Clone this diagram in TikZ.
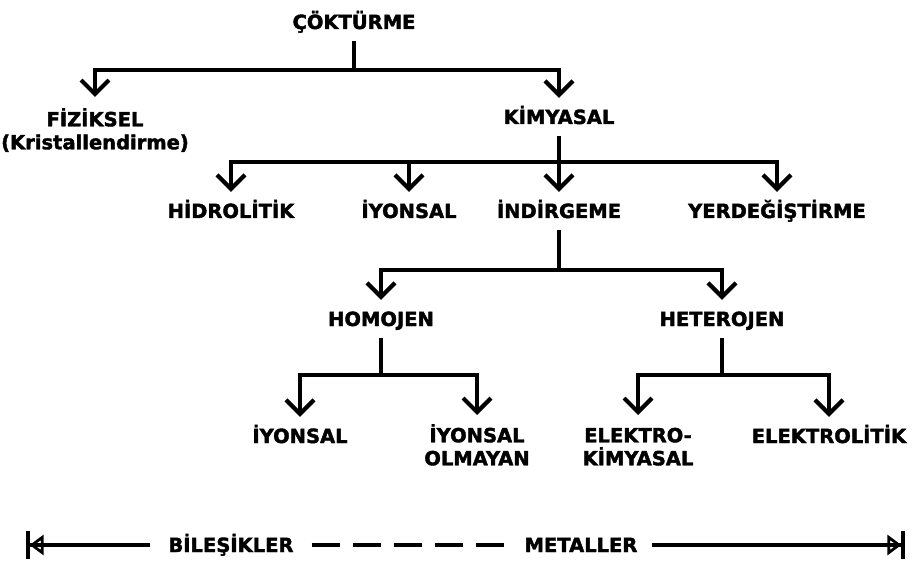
\documentclass[tikz,border=0pt]{standalone}
\usepackage{fontspec}
\setmainfont{DejaVu Sans}
\newfontfamily\heavyfont{DejaVu Sans Bold}[FakeBold=2]
\usetikzlibrary{arrows.meta}
\begin{document}
\begin{tikzpicture}[x=1pt,y=-1pt,
  txt/.style={font=\heavyfont\fontsize{19.5}{23}\selectfont},
  lbl/.style={txt, inner xsep=1pt, inner ysep=12pt, text height=14pt, text depth=0pt},
  lbl2/.style={txt, inner xsep=1pt, inner ysep=9pt, align=center, anchor=north},
  ln/.style={line width=3.4pt, line join=miter},
  arr/.style={ln, -{Straight Barb[length=14pt,width=28pt,line width=4.2pt]}},
  axis/.style={line width=3.2pt},
  axlbl/.style={txt, inner xsep=14pt, inner ysep=2pt, text height=14pt, text depth=0pt},
]
\useasboundingbox (0,0) rectangle (916,564);

% level 1
\node[lbl] (cok) at (354,22) {ÇÖKTÜRME};
% level 2
\node[lbl2, inner ysep=11pt] (fiz) at (95,97) {FİZİKSEL\\(Kristallendirme)};
\node[lbl] (kim) at (559,117) {KİMYASAL};
% level 3
\node[lbl] (hid) at (231,211) {HİDROLİTİK};
\node[lbl] (iyo) at (409,211) {İYONSAL};
\node[lbl] (ind) at (559,211) {İNDİRGEME};
\node[lbl] (yer) at (777,211) {YERDEĞİŞTİRME};
% level 4
\node[lbl] (hom) at (381,319) {HOMOJEN};
\node[lbl] (het) at (722,319) {HETEROJEN};
% level 5
\node[lbl] (iy2) at (300,436) {İYONSAL};
\node[lbl2] (iyo3) at (477,415) {İYONSAL\\OLMAYAN};
\node[lbl2] (ele) at (638,415) {\vphantom{İ}ELEKTRO-\\KİMYASAL};
\node[lbl] (elt) at (829,436) {ELEKTROLİTİK};

% junctions
\coordinate (j0) at (cok.south |- 0,70);
\coordinate (j1) at (kim.south |- 0,162);
\coordinate (j2) at (ind.south |- 0,270);
\coordinate (j3) at (hom.south |- 0,375);
\coordinate (j4) at (het.south |- 0,375);

\draw[ln] (cok.south) -- (j0);
\draw[arr] (j0) -| (fiz.north);
\draw[arr] (j0) -| (kim.north);

\draw[ln] (kim.south) -- (j1);
\draw[arr] (j1) -| (hid.north);
\draw[arr] (j1) -| (iyo.north);
\draw[arr] (j1) -- (ind.north);
\draw[arr] (j1) -| (yer.north);

\draw[ln] (ind.south) -- (j2);
\draw[arr] (j2) -| (hom.north);
\draw[arr] (j2) -| (het.north);

\draw[ln] (hom.south) -- (j3);
\draw[arr] (j3) -| (iy2.north);
\draw[arr] (j3) -| (iyo3.north);

\draw[ln] (het.south) -- (j4);
\draw[arr] (j4) -| (ele.north);
\draw[arr] (j4) -| (elt.north);

% bottom axis
\coordinate (L) at (26,545);
\coordinate (R) at (905,545);
\node[axlbl, inner xsep=18pt] (bil) at (231,545) {BİLEŞİKLER};
\node[axlbl] (met) at (581,545) {METALLER};
\draw[axis, {Bar[width=28pt,line width=3.6pt] Triangle[open,length=14pt,width=20pt,line width=2.8pt]}-] (L) -- (bil.west);
\draw[axis, dash pattern=on 28pt off 13pt] (bil.east) -- (met.west);
\draw[axis, -{Triangle[open,length=14pt,width=20pt,line width=2.8pt] Bar[width=28pt,line width=3.6pt]}] (met.east) -- (R);
\end{tikzpicture}
\end{document}
